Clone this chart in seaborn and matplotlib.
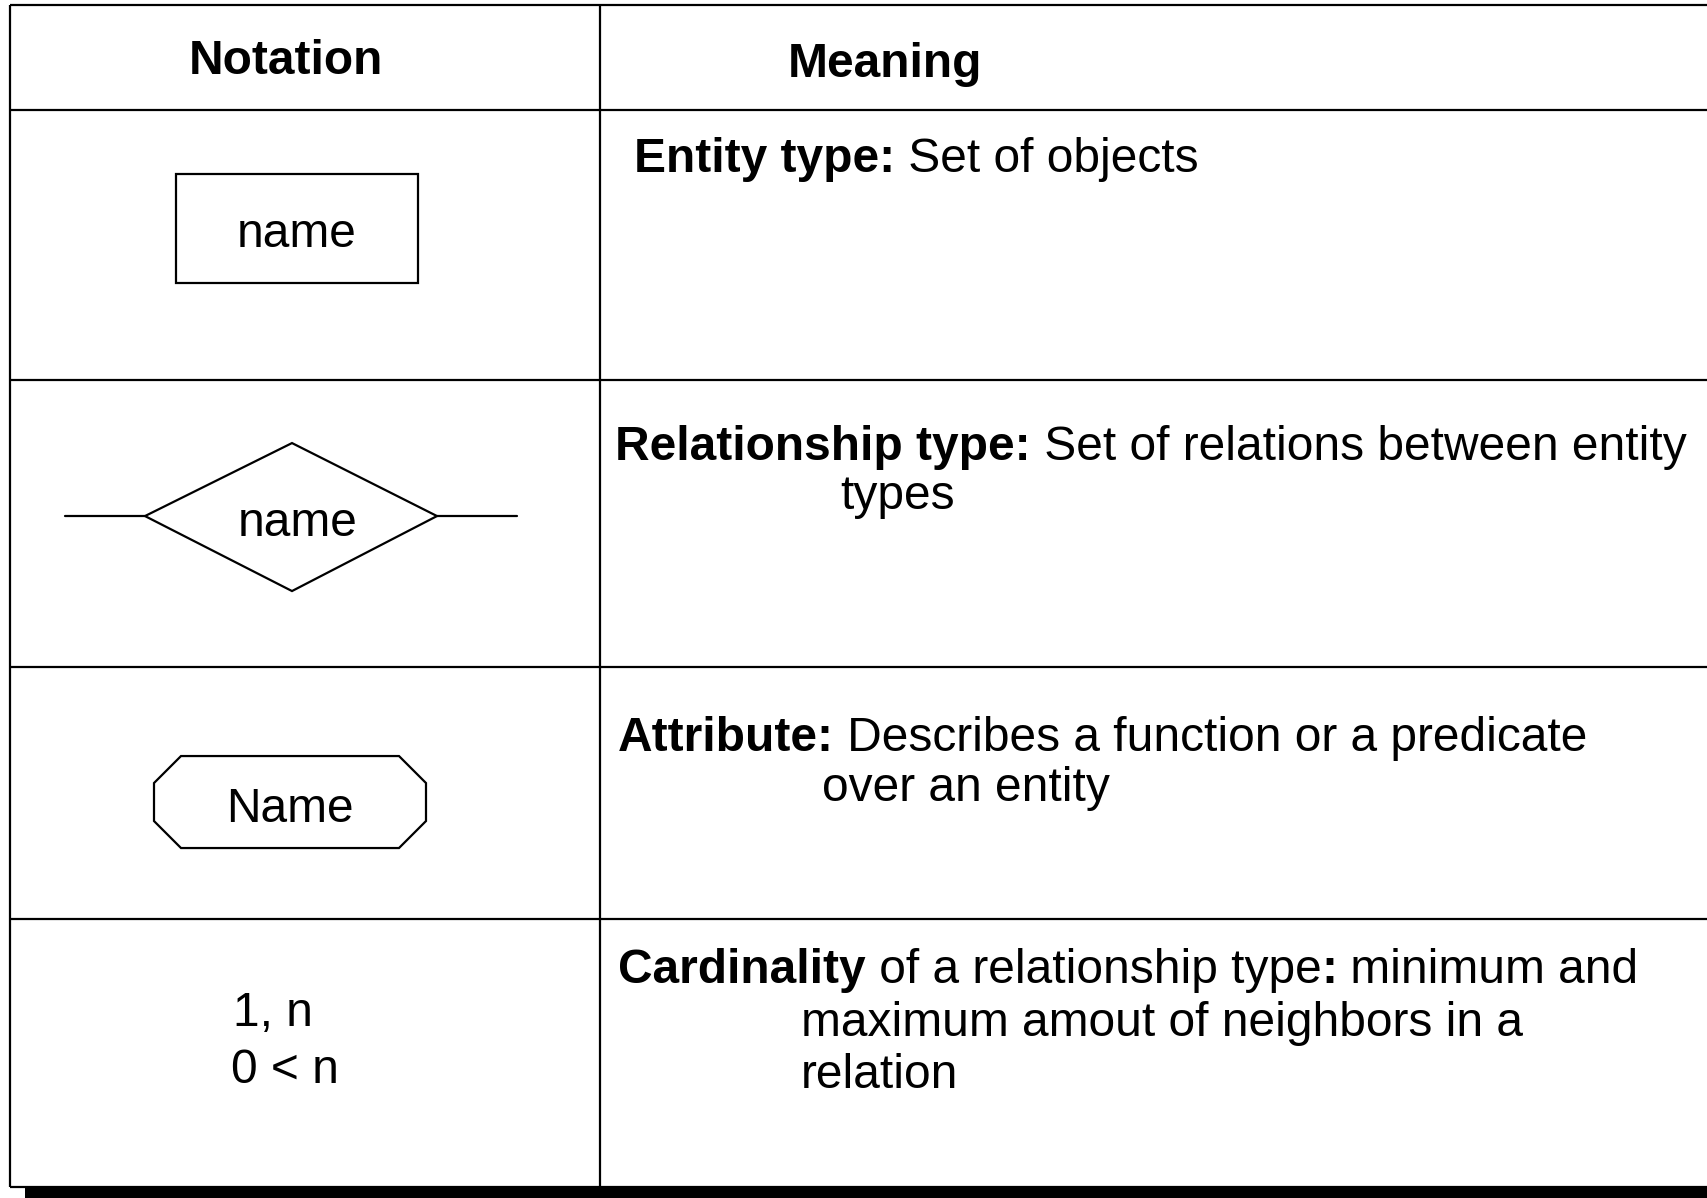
import matplotlib
matplotlib.use("Agg")
import matplotlib.pyplot as plt
import seaborn as sns
from matplotlib.patches import Rectangle, Polygon

sns.set_theme(style="white")
plt.rcParams["font.family"] = ["Liberation Sans", "DejaVu Sans"]
plt.rcParams["text.color"] = "black"

# table content
headers = ["Notation", "Meaning"]
shape_labels = ["name", "name", "Name"]
cardinality_labels = ["1, n", "0 < n"]
meaning_lines = [
    [[("Entity type:", "bold"), (" Set of objects", "normal")]],
    [[("Relationship type:", "bold"), (" Set of relations between entity", "normal")],
     [("types", "normal")]],
    [[("Attribute:", "bold"), (" Describes a function or a predicate", "normal")],
     [("over an entity", "normal")]],
    [[("Cardinality", "bold"), (" of a relationship type", "normal"), (":", "bold"),
      (" minimum and", "normal")],
     [("maximum amout of neighbors in a", "normal")],
     [("relation", "normal")]],
]

# layout (pixels, full size picture)
W, H = 1708, 1199
FS = 34.5
LW = 1.6
row_lines = [6, 111, 381, 668, 920, 1188]
col_left, col_div = 10, 600
meaning_pos = [
    [(634, 172)],
    [(615, 460), (840, 509)],
    [(618, 751), (822, 801)],
    [(618, 983), (801, 1036), (801, 1088)],
]

fig = plt.figure(figsize=(W / 100, 11.989), dpi=100)
ax = fig.add_axes([0, 0, 1, 1])
ax.set_xlim(0, W)
ax.set_ylim(H, 0)
ax.axis("off")

# drop shadow under the table
ax.add_patch(Rectangle((25, row_lines[-1]), W - 25, H - row_lines[-1],
                       facecolor="black", edgecolor="none", zorder=1))

# grid lines
for y in row_lines:
    ax.plot([col_left, W], [y, y], color="black", lw=LW, zorder=2,
            solid_capstyle="butt")
for x in (col_left, col_div):
    ax.plot([x, x], [row_lines[0], row_lines[-1]], color="black", lw=LW,
            zorder=2, solid_capstyle="butt")

# headers
ax.text(286, 74, headers[0], fontsize=FS, fontweight="bold", ha="center",
        va="baseline")
ax.text(788, 77, headers[1], fontsize=FS, fontweight="bold", ha="left",
        va="baseline")

# entity box
ax.add_patch(Rectangle((176, 175), 242, 109, fill=False, edgecolor="black",
                       lw=LW, zorder=3))
ax.text(297, 247, shape_labels[0], fontsize=FS, ha="center", va="baseline")

# relationship diamond with connectors
ax.add_patch(Polygon([(145, 517), (292, 444), (437, 517), (292, 592)],
                     closed=True, fill=False, edgecolor="black", lw=LW, zorder=3))
ax.plot([65, 145], [517, 517], color="black", lw=LW)
ax.plot([437, 517], [517, 517], color="black", lw=LW)
ax.text(298, 536, shape_labels[1], fontsize=FS, ha="center", va="baseline")

# attribute octagon
x0, x1, y0, y1, c = 154, 426, 757, 849, 27
ax.add_patch(Polygon([(x0 + c, y0), (x1 - c, y0), (x1, y0 + c), (x1, y1 - c),
                      (x1 - c, y1), (x0 + c, y1), (x0, y1 - c), (x0, y0 + c)],
                     closed=True, fill=False, edgecolor="black", lw=LW, zorder=3))
ax.text(290, 822, shape_labels[2], fontsize=FS, ha="center", va="baseline")

# cardinality
ax.text(233, 1026, cardinality_labels[0], fontsize=FS, ha="left", va="baseline")
ax.text(231, 1083, cardinality_labels[1], fontsize=FS, ha="left", va="baseline")


def rich_line(x, y, segments):
    prev = None
    for txt, weight in segments:
        if prev is None:
            prev = ax.text(x, y, txt, fontsize=FS, fontweight=weight,
                           ha="left", va="baseline")
        else:
            prev = ax.annotate(txt, xy=(1, 0), xycoords=prev, fontsize=FS,
                               fontweight=weight, ha="left", va="bottom")


for lines, positions in zip(meaning_lines, meaning_pos):
    for segs, (x, y) in zip(lines, positions):
        rich_line(x, y, segs)

fig.savefig("out.png", dpi=100, facecolor="white")
